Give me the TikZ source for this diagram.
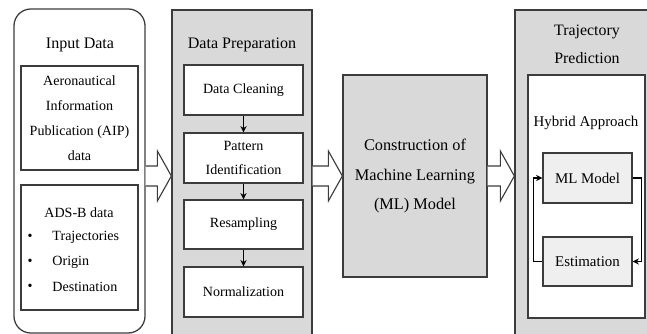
\documentclass[tikz,border=0pt]{standalone}
\usepackage{fontspec}
\setmainfont{Liberation Serif}
\usetikzlibrary{arrows.meta,fit,calc}
\definecolor{panel}{HTML}{D9D9D9}
\definecolor{light}{HTML}{EFEFEF}
\definecolor{ink}{HTML}{3C3C3C}

\begin{document}
\begin{tikzpicture}[x=0.025cm,y=-0.025cm,font=\fontsize{10}{17.75}\selectfont,
 head/.style={font=\fontsize{11.4}{20}\selectfont,align=center},
 frame/.style={draw=ink,line width=.9pt,inner sep=0pt},
 card/.style={frame,fill=white},
 shade/.style={frame,fill=panel},
 hollow/.style={draw=ink,line width=.8pt,fill=white,line join=miter},
 flow/.style={-{Stealth[length=4.5pt,width=4.5pt]},draw=black,line width=.9pt}]
\useasboundingbox (0,0) rectangle (647,334);
\coordinate (lvl) at (0,176);
% Input column
\node[card,rounded corners=.42cm,fit={(14,9) (145,333)}] (input) {};
\node[head] (inputhead) at (80,45) {Input Data};
\node[card,fit={(21,66) (138,170)}] (aip) {};
\node[align=center] (aiptext) at (aip.center)
 {Aeronautical\\Information\\Publication (AIP)\\data};
\node[card,fit={(21,185) (138,310)}] (adsb) {};
\node (adsbhead) at (79,213) {ADS-B data};
\foreach \y/\txt/\n in {237/Trajectories/1,262/Origin/2,287/Destination/3} {
 \node (bul\n) at (30,\y) {\textbullet};
 \node[anchor=west] (item\n) at (47.5,\y) {\txt};
}
% Data preparation steps
\node[shade,fit={(172,10) (312,345)}] (prep) {};
\node[head] (prephead) at (242,45) {Data Preparation};
\foreach \n/\top/\bot/\txt in {clean/65/115/Data Cleaning,pattern/133/183/Pattern\\Identification,
 resamp/200/249/Resampling,norm/267/317/Normalization} {
 \node[card,fit={(184,\top) (303,\bot)}] (\n) {};
 \node[align=center,font=\fontsize{10}{17}\selectfont] (\n text) at (\n.center) {\txt};
}
\foreach \a/\b in {clean/pattern,pattern/resamp,resamp/norm}
 \draw[flow] (\a) -- (\b);
% Model construction
\node[shade,fit={(343,75) (487,277)}] (ml) {};
\node[align=center,font=\fontsize{11.6}{21.3}\selectfont] (mltext) at (ml.center)
 {Construction of\\Machine Learning\\(ML) Model};
% Trajectory prediction
\node[shade,fit={(515,10) (660,345)}] (traj) {};
\node[head,font=\fontsize{11.3}{19.9}\selectfont] (trajhead) at (587,44) {Trajectory\\Prediction};
\node[card,fit={(528,75) (645,318)}] (hybrid) {};
\node[font=\fontsize{10.6}{12}\selectfont] (hybridhead) at (586,123) {Hybrid Approach};
\foreach \n/\top/\bot/\txt in {mlmodel/153/203/ML Model,est/237/286/Estimation} {
 \node[frame,fill=light,fit={(543,\top) (632,\bot)}] (\n) {};
 \node[font=\fontsize{10.6}{12}\selectfont] (\n text) at (\n.center) {\txt};
}
\draw[flow] (mlmodel.east) -- ++(9,0) |- (est.east);
\draw[flow] (est.west) -- ++(-9,0) |- (mlmodel.west);
% Hollow block arrows between stages
\foreach \a/\b in {input/prep,prep/ml,ml/traj}
 \draw[hollow] (\a.east |- lvl) ++(0,-10) -- ($(\b.west |- lvl)+(-14,-10)$) -- ++(0,-15)
  -- (\b.west |- lvl) -- ($(\b.west |- lvl)+(-14,25)$) -- ++(0,-15) -- ($(\a.east |- lvl)+(0,10)$);
\end{tikzpicture}
\end{document}
